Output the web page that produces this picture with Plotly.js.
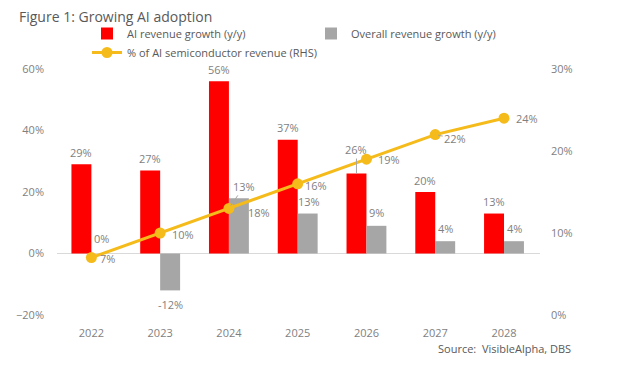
<!DOCTYPE html>
<html>
<head>
<meta charset="utf-8">
<script src="https://cdn.plot.ly/plotly-3.0.1.min.js"></script>
<style>html,body{margin:0;padding:0;background:#fff;}#chart{width:620px;height:369px;}</style>
</head>
<body>
<div id="chart"></div>
<script>
var years = ['2022','2023','2024','2025','2026','2027','2028'];
var aiGrowth = [29, 27, 56, 37, 26, 20, 13];
var overallGrowth = [0, -12, 18, 13, 9, 4, 4];
var aiShare = [7, 10, 13, 16, 19, 22, 24];

var red = '#FF0000', gray = '#A6A6A6', gold = '#F5BB1A', txt = '#7F7F7F';
var font = 'Open Sans, sans-serif';

var traces = [
  {type:'bar', name:'AI revenue growth (y/y)', x:years, y:aiGrowth, marker:{color:red}, hoverinfo:'none'},
  {type:'bar', name:'Overall revenue growth (y/y)', x:years, y:overallGrowth, marker:{color:gray}, hoverinfo:'none'},
  {type:'scatter', mode:'lines+markers', name:'% of AI semiconductor revenue (RHS)', x:years, y:aiShare, yaxis:'y2',
   line:{color:gold, width:3}, marker:{color:gold, size:11}, hoverinfo:'none'}
];

// annotations on a category axis use the category's serial number (index)
var ann = [];
function lab(i, y, text, yref, xs, ys) {
  ann.push({x:i, y:y, xref:'x', yref:yref, text:text, showarrow:false, xshift:xs, yshift:ys,
           font:{family:font, size:11, color:txt}});
}
function leader(i, y, text, yref, xs, ax, ay, standoff) {
  ann.push({x:i, y:y, xref:'x', yref:yref, text:text, showarrow:true, arrowhead:0, arrowwidth:1, arrowcolor:'#A6A6A6',
           ax:ax, ay:ay, xshift:xs, standoff:standoff, font:{family:font, size:11, color:txt}});
}
// red bar labels (above bars)
for (var i = 0; i < years.length; i++) {
  if (i === 4) leader(i, aiGrowth[i], aiGrowth[i] + '%', 'y', -10, 0, -24, 0);
  else lab(i, aiGrowth[i], aiGrowth[i] + '%', 'y', -10, 12);
}
// gray bar labels
var grayDX = [10, 10, 30, 11, 10, 10, 10];
var grayDY = [15, -14, -14, 12, 13, 13, 13];
for (var i = 0; i < years.length; i++) {
  lab(i, overallGrowth[i], overallGrowth[i] + '%', 'y', grayDX[i], grayDY[i]);
}
// line labels
var lineDX = [16, 23, 15, 18, 23, 20, 23];
var lineDY = [-1, -1, -22, -2, 0, 4, 0];
for (var i = 0; i < years.length; i++) {
  if (i === 2 || i === 5) leader(i, aiShare[i], aiShare[i] + '%', 'y2', 0, lineDX[i], lineDY[i], 3);
  else lab(i, aiShare[i], aiShare[i] + '%', 'y2', lineDX[i], lineDY[i]);
}
ann.push({x:(573-57)/483, y:(315-348)/246, xref:'paper', yref:'paper', text:'Source:  VisibleAlpha, DBS', showarrow:false,
  xanchor:'right', yanchor:'middle', font:{family:font, size:11, color:'#595959'}});

var layout = {
  width:620, height:369,
  margin:{l:57, r:80, t:69, b:54},
  paper_bgcolor:'#fff', plot_bgcolor:'#fff',
  font:{family:font, size:11, color:txt},
  title:{text:'Figure 1: Growing AI adoption', x:19/620, xanchor:'left', xref:'container', y:1-17/369, yanchor:'middle', yref:'container',
         font:{family:font, size:14, color:'#595959'}},
  barmode:'group', bargap:0.42, bargroupgap:0,
  showlegend:true,
  legend:{orientation:'h', x:(87-57)/483, xref:'paper', y:1+(69-19)/246, yref:'paper', yanchor:'top', xanchor:'left',
          entrywidth:179, entrywidthmode:'pixels', traceorder:'normal', tracegroupgap:0,
          font:{family:font, size:11, color:'#595959'}, bgcolor:'rgba(0,0,0,0)', itemwidth:30},
  xaxis:{type:'category', showline:false, showgrid:false, zeroline:false, ticks:'', ticklabelstandoff:10,
         tickfont:{family:font, size:11, color:txt}, fixedrange:true},
  yaxis:{range:[-20,60], dtick:20, ticksuffix:'%', showgrid:false, zeroline:true, zerolinecolor:'#D9D9D9', zerolinewidth:1.5,
         showline:false, ticks:'', ticklabelstandoff:12, tickfont:{family:font, size:11, color:txt}, fixedrange:true},
  yaxis2:{range:[0,30], dtick:10, ticksuffix:'%', overlaying:'y', side:'right', showgrid:false, zeroline:false,
          showline:false, ticks:'', ticklabelstandoff:10, tickfont:{family:font, size:11, color:txt}, fixedrange:true},
  annotations:ann
};
Plotly.newPlot('chart', traces, layout, {displayModeBar:false, staticPlot:true});
</script>
</body>
</html>
